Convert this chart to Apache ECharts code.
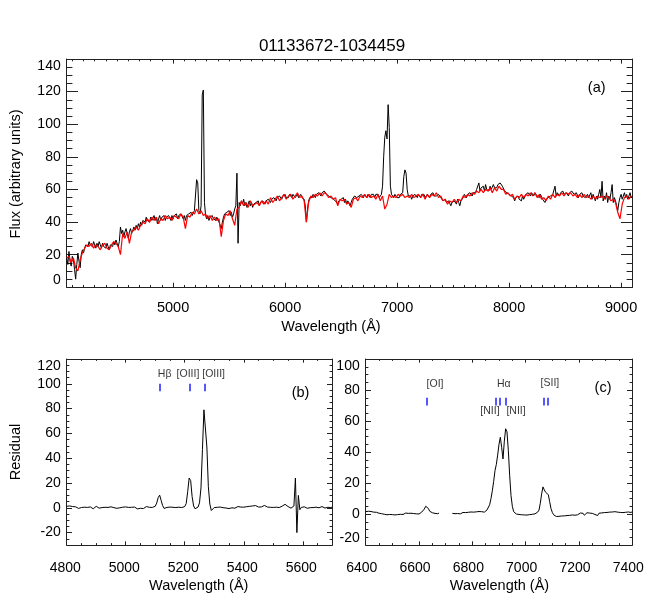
<!DOCTYPE html>
<html><head><meta charset="utf-8">
<script src="https://cdn.jsdelivr.net/npm/echarts@6/dist/echarts.min.js"></script>
<style>html,body{margin:0;padding:0;background:#fff}#c{width:664px;height:599px}</style>
</head><body><div id="c"></div>
<script>
const FONT = '"Liberation Sans", Arial, Helvetica, sans-serif';
const titleText = '01133672-1034459';

// ---- Panel (a): observed spectrum (black), 10 A grid from 4050
const obsStart = 4050, obsStep = 10;
const observedFlux = [
18,14,22,16,13,19,17,11,5,14,
21,16,12,20,23,21,24,26,27,25,
28,26,27,25,28,26,24,27,25,28,
26,24,27,25,26,24,27,25,23,26,
27,25,28,26,29,27,25,28,37,33,
35,31,34,36,33,30,34,36,33,35,
37,35,38,36,39,37,40,38,41,42,
40,43,41,42,40,43,41,42,44,41,
43,39,42,44,41,43,42,44,41,43,
42,44,43,41,44,42,44,43,45,42,
44,43,45,44,42,44,41,44,43,45,
44,46,44,45,47,48,66,64,47,45,
50,118,121,52,44,42,44,41,43,42,
44,42,43,41,43,42,40,41,36,40,
43,45,44,46,45,47,44,46,43,45,
48,50,70,27,52,50,53,51,54,50,
52,49,51,53,50,52,49,51,50,52,
51,53,50,52,51,53,52,51,53,52,
54,53,52,54,53,55,54,53,55,54,
56,55,54,56,55,57,55,56,55,57,
56,55,57,56,55,56,57,55,56,57,
55,56,54,50,40,48,53,55,56,55,
57,56,55,57,56,58,57,56,58,57,
59,58,57,58,56,57,55,56,54,55,
53,54,51,53,52,54,53,55,52,54,
51,53,52,50,52,54,53,56,57,55,
54,56,55,57,56,55,57,56,55,57,
56,55,57,56,57,55,57,56,57,55,
56,57,62,80,92,96,91,112,98,62,
57,56,55,57,56,55,56,55,57,56,
58,68,72,70,60,56,55,56,54,56,
55,57,56,55,57,56,55,57,56,57,
55,56,57,56,55,57,56,58,56,57,
56,55,57,56,55,54,53,52,54,52,
51,53,52,50,52,51,53,52,51,54,
52,50,53,54,55,57,56,55,57,56,
58,57,56,58,59,58,60,59,64,59,
61,60,62,59,63,60,61,59,62,60,
61,63,61,62,61,63,62,64,63,62,
61,59,60,58,59,57,58,56,57,55,
53,55,54,56,54,55,53,56,54,55,
57,56,58,57,56,58,57,56,58,57,
56,57,55,57,56,54,53,52,54,53,
55,54,56,55,57,56,62,56,58,57,
56,58,57,59,57,56,58,57,56,58,
57,59,58,57,56,58,57,55,57,56,
58,56,57,55,56,57,55,56,58,54,
57,55,53,56,54,57,60,55,65,53,
56,54,58,52,56,54,58,63,52,55,
53,50,47,52,55,57,54,56,58,55,
57,54,56,58,55,56
];

// ---- Panel (a): model spectrum (red), 20 A grid from 4050
const modelStart = 4050, modelStep = 20;
const modelFlux = [
18,19,15,18,12,10,17,21,24,26,
25,27,24,26,25,23,26,27,24,23,
26,28,27,25,20,33,30,34,27,34,
35,37,35,38,40,39,42,40,43,41,
43,39,42,41,44,42,43,41,44,43,
42,45,43,36,44,43,46,45,48,45,
47,44,45,42,44,41,43,41,42,31,
41,45,44,47,42,38,48,49,53,50,
52,49,53,50,51,52,50,53,51,53,
51,55,52,54,56,53,55,57,54,56,
57,54,56,58,55,56,53,40,52,56,
55,57,56,58,56,58,57,55,56,54,
55,50,54,53,54,51,52,49,54,55,
53,56,55,57,55,57,55,56,54,57,
53,56,48,51,57,55,56,55,57,56,
57,55,56,55,57,55,56,57,55,57,
54,57,55,57,56,58,55,56,53,54,
51,53,52,54,52,54,53,56,55,57,
56,58,57,59,58,60,58,60,59,61,
58,61,59,62,60,60,57,58,56,57,
54,56,55,57,55,57,56,58,56,58,
55,57,54,55,53,56,54,57,55,57,
56,58,56,58,57,58,56,57,55,57,
55,57,55,56,54,56,54,56,55,56,
54,56,55,53,54,52,46,42,51,55,
56,54,56
];

// ---- Panel (b): residual, 5 A grid from 4800
const resBStart = 4800, resBStep = 5;
const residualB = [
1.2,0.5,1.5,0.2,1.0,-0.3,0.8,0.1,-0.5,0.9,
0.2,-0.6,0.5,1.6,0.3,-0.4,0.7,0.0,-0.8,0.4,
1.2,0.1,-0.3,0.6,0.2,1.5,0.4,-0.5,0.3,-0.2,
0.8,-0.7,0.1,0.6,-0.4,0.9,0.0,-0.6,0.5,-0.2,
0.7,-0.5,0.3,-0.8,0.4,-0.3,0.6,-0.1,-0.9,0.2,
-0.4,0.5,-0.6,0.1,1.0,-0.3,0.4,-0.5,0.3,0.0,
1.2,3.8,8.2,10.2,6.0,1.8,-0.5,-1.0,0.3,-0.4,
0.6,-0.2,0.4,-0.7,0.2,-0.3,0.5,-0.6,0.2,0.8,
1.0,3.5,13.0,24.0,22.0,9.0,1.5,-0.8,-0.2,0.6,
4.0,16.0,47.0,79.0,78.0,49.0,17.0,3.0,-2.2,-1.5,
0.2,-0.5,0.4,-0.3,0.6,-0.4,0.1,0.7,-0.2,0.5,
-0.6,0.3,0.0,0.8,-0.3,0.4,1.0,0.2,0.6,-0.2,
0.5,0.1,0.9,0.3,1.2,0.4,1.5,0.8,1.8,1.0,
0.6,1.3,0.7,1.4,1.9,1.1,0.6,1.2,0.4,0.9,
0.3,1.0,0.5,1.1,0.2,0.8,1.3,2.0,2.8,2.2,
1.0,0.4,-0.3,0.5,1.5,24.0,-20.0,10.0,-1.5,0.3,
-0.5,0.8,0.2,-0.4,0.6,0.1,0.9,0.2,-0.3,0.5,
0.8,0.0,0.6,1.0,0.3,-0.2,0.7,0.4,1.1,0.2,
0.6
];

// ---- Panel (c): residual, 5 A grid from 6400 (masked gap = null)
const resCStart = 6400, resCStep = 5;
const residualC = [
1.5,0.8,1.8,1.0,1.6,0.6,1.2,2.0,1.1,1.7,
0.5,1.0,0.2,0.8,-0.2,0.4,-0.5,0.3,-0.3,0.5,
-0.4,0.2,-0.6,0.1,-0.4,0.3,-0.2,0.5,-0.3,0.2,
0.6,-0.1,0.4,0.0,0.5,-0.2,0.3,0.7,0.1,0.4,
0.0,0.6,1.2,1.8,3.2,5.0,5.8,3.6,1.8,2.2,
0.8,1.3,0.4,1.0,0.2,0.6,null,null,null,null,
null,null,null,null,null,0.4,0.9,0.2,0.7,0.3,
0.8,0.1,0.6,1.0,0.4,0.9,0.3,1.1,0.5,1.3,
0.7,1.2,0.6,1.4,0.9,1.6,0.8,1.5,2.4,1.2,
1.8,2.6,3.5,6.0,10.0,15.0,21.0,28.0,32.0,38.0,
45.0,49.5,43.0,35.5,47.0,55.0,53.0,41.0,25.0,12.0,
5.0,1.5,0.6,0.0,0.5,-0.3,0.2,-0.5,0.1,-0.6,
-0.1,-0.7,0.0,-0.4,0.3,-0.2,0.4,0.1,0.6,1.2,
2.5,7.0,13.0,17.5,15.5,14.0,14.0,12.5,8.0,3.5,
1.0,-0.5,-1.2,-1.6,-1.0,-1.5,-0.8,-1.3,-0.6,-1.2,
-0.4,-1.0,-0.3,-0.9,0.2,-0.6,-0.1,-0.8,0.3,-0.5,
0.1,0.6,-0.4,0.5,-0.8,0.3,0.8,-0.2,0.6,-0.6,
0.4,1.0,-0.3,0.2,-1.0,0.5,-0.4,0.7,0.0,0.9,
0.2,1.0,0.4,1.2,0.6,1.3,0.7,1.5,0.9,1.2,
1.8,1.0,1.5,0.9,1.7,1.1,1.9,1.3,1.6,1.0,
1.4
];

// ---- Line markers (observed wavelengths) and their labels
const linesB = [5114, 5217, 5267];
const lineMarkB = [94, 100];
const labelsB = [['H\u03b2', 5132, 107.5], ['[OIII]', 5211, 107.5], ['[OIII]', 5298, 107.5]];
const linesC = [6628, 6889, 6904, 6925, 7066, 7081];
const lineMarkC = [70, 75];
const labelsC = [['[OI]', 6660, 83.7], ['H\u03b1', 6918, 83.8], ['[SII]', 7091, 84.3], ['[NII]', 6866, 66.5], ['[NII]', 6964, 66.5]];
const panelTags = ['(a)', '(b)', '(c)'];

// ---- Axes ticks
const aX = {min: 4050, max: 9100, major: [5000, 6000, 7000, 8000, 9000], minorStep: 100};
const aY = {min: 0, max: 140, major: [0, 20, 40, 60, 80, 100, 120, 140], minorStep: 5};
const bX = {min: 4800, max: 5700, major: [4800, 5000, 5200, 5400, 5600], minorStep: 50};
const bY = {min: -30, max: 120, major: [-20, 0, 20, 40, 60, 80, 100, 120], minorStep: 5};
const cX = {min: 6400, max: 7400, major: [6400, 6600, 6800, 7000, 7200, 7400], minorStep: 50};
const cY = {min: -20, max: 100, major: [-20, 0, 20, 40, 60, 80, 100], minorStep: 5};

function minorsOf(a) {
  const out = [];
  const s = Math.ceil(a.min / a.minorStep) * a.minorStep;
  for (let v = s; v <= a.max + 1e-9; v += a.minorStep) if (a.major.indexOf(v) < 0) out.push(v);
  return out;
}
function pairs(start, step, arr) { return arr.map((v, i) => [start + i * step, v]); }

const AXC = '#222';
function axisSet(kind, gridIndex, a, majorLen, minorLen, labelOpt) {
  const pm = kind === 'x' ? 'bottom' : 'left';
  const po = kind === 'x' ? 'top' : 'right';
  const minors = minorsOf(a);
  const mk = (pos, ticks, len, showLine, showLabel) => ({
    type: 'value', gridIndex: gridIndex, min: a.min, max: a.max, position: pos,
    splitLine: {show: false}, splitArea: {show: false}, minorTick: {show: false},
    axisLine: {show: showLine, onZero: false, lineStyle: {color: AXC, width: 1}},
    axisTick: {show: true, inside: true, length: len, customValues: ticks, lineStyle: {color: AXC, width: 1}},
    axisLabel: showLabel ? Object.assign({show: true, customValues: a.major, color: '#000', fontFamily: FONT, fontSize: 14,
      formatter: v => String(v)}, labelOpt) : {show: false}
  });
  return [mk(pm, a.major, majorLen, true, true), mk(pm, minors, minorLen, false, false),
          mk(po, a.major, majorLen, true, false), mk(po, minors, minorLen, false, false)];
}

const xAxes = [].concat(
  axisSet('x', 0, aX, 4.6, 2.3, {margin: 13, fontSize: 14.5}),
  axisSet('x', 1, bX, 3.7, 1.9, {margin: 16, padding: [0, 3, 0, 0]}),
  axisSet('x', 2, cX, 3.7, 1.9, {margin: 16, padding: [0, 8, 0, 0]})
);
const yAxes = [].concat(
  axisSet('y', 0, aY, 11.3, 5.7, {margin: 6, verticalAlignMinLabel: 'bottom', verticalAlignMaxLabel: 'top'}),
  axisSet('y', 1, bY, 5.3, 2.7, {margin: 6, verticalAlignMaxLabel: 'top'}),
  axisSet('y', 2, cY, 5.3, 2.7, {margin: 6, verticalAlignMinLabel: 'bottom', verticalAlignMaxLabel: 'top'})
);

function marks(lines, ys) {
  return {
    silent: true, animation: false, symbol: ['none', 'none'], label: {show: false},
    lineStyle: {color: '#1f1fff', width: 1.5, type: 'solid'},
    emphasis: {disabled: true},
    data: lines.map(w => [{coord: [w, ys[0]]}, {coord: [w, ys[1]]}])
  };
}
function labelSeries(gi, list) {
  return {
    type: 'scatter', xAxisIndex: gi * 4, yAxisIndex: gi * 4, symbolSize: 0, silent: true, animation: false,
    data: list.map(l => ({name: l[0], value: [l[1], l[2]]})),
    label: {show: true, position: 'inside', formatter: p => p.name, color: '#000', fontFamily: FONT, fontSize: 10.5}
  };
}
function txt(x, y, s, size, rot) {
  return {type: 'text', x: x, y: y, rotation: rot || 0, silent: true,
    style: {text: s, fill: '#000', font: size + 'px ' + FONT, align: 'center', verticalAlign: 'middle'}};
}

const chart = echarts.init(document.getElementById('c'), null, {renderer: 'canvas'});
chart.setOption({
  animation: false,
  backgroundColor: '#fff',
  title: {text: titleText, left: 'center', top: 33, textStyle: {fontFamily: FONT, fontSize: 17, fontWeight: 'normal', color: '#000'}},
  grid: [
    {left: 66.7, top: 59, width: 565.6, height: 228.3, containLabel: false, outerBoundsMode: 'none'},
    {left: 66.7, top: 359, width: 265.6, height: 186, containLabel: false, outerBoundsMode: 'none'},
    {left: 365.7, top: 359, width: 266.6, height: 186, containLabel: false, outerBoundsMode: 'none'}
  ],
  xAxis: xAxes,
  yAxis: yAxes,
  series: [
    {type: 'line', xAxisIndex: 0, yAxisIndex: 0, data: pairs(obsStart, obsStep, observedFlux), symbol: 'none', silent: true,
     lineStyle: {color: '#000', width: 1}, z: 2},
    {type: 'line', xAxisIndex: 0, yAxisIndex: 0, data: pairs(modelStart, modelStep, modelFlux), symbol: 'none', silent: true,
     lineStyle: {color: '#ff0000', width: 1.2}, z: 3},
    {type: 'line', xAxisIndex: 4, yAxisIndex: 4, data: pairs(resBStart, resBStep, residualB), symbol: 'none', silent: true,
     lineStyle: {color: '#000', width: 1}, markLine: marks(linesB, lineMarkB)},
    {type: 'line', xAxisIndex: 8, yAxisIndex: 8, data: pairs(resCStart, resCStep, residualC), symbol: 'none', silent: true, connectNulls: false,
     lineStyle: {color: '#000', width: 1}, markLine: marks(linesC, lineMarkC)},
    labelSeries(1, labelsB),
    labelSeries(2, labelsC)
  ],
  graphic: [
    txt(331, 327, 'Wavelength (\u00c5)', 14.5),
    txt(16, 174, 'Flux (arbitrary units)', 14.5, Math.PI / 2),
    txt(198.7, 586, 'Wavelength (\u00c5)', 14.5),
    txt(499.5, 586, 'Wavelength (\u00c5)', 14.5),
    txt(16, 452, 'Residual', 14.5, Math.PI / 2),
    txt(596.7, 88.3, panelTags[0], 14.5),
    txt(300.5, 393.3, panelTags[1], 14.5),
    txt(603, 387.5, panelTags[2], 14.5)
  ]
});
</script></body></html>
